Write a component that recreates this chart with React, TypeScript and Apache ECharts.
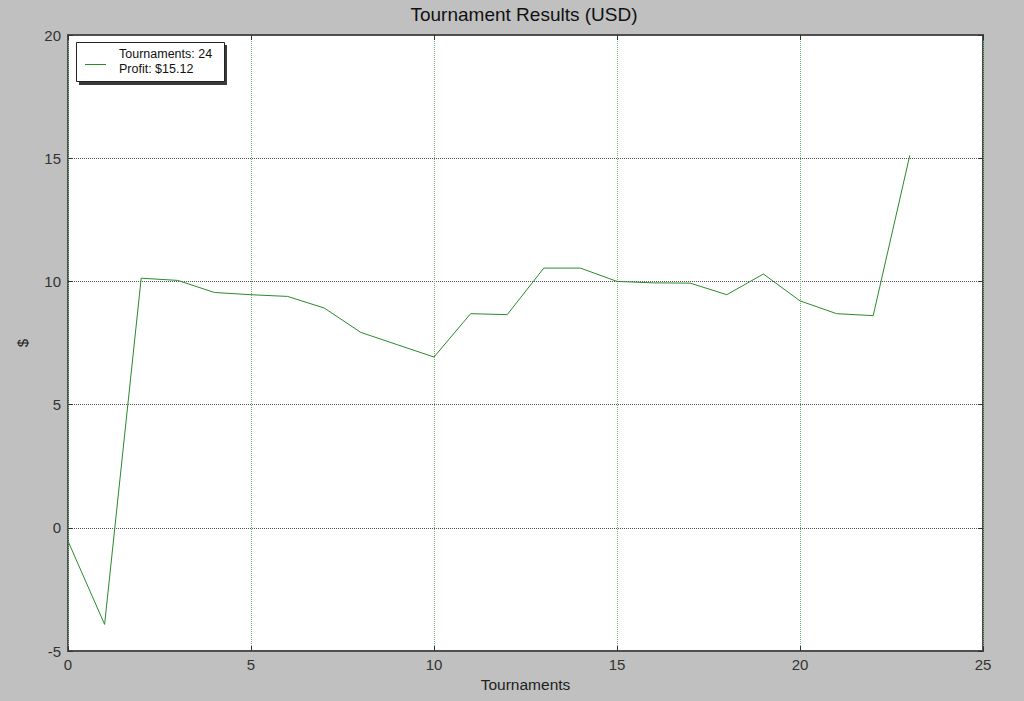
import React, { useEffect, useRef } from "react";
import * as echarts from "echarts";

const tournaments = [0, 1, 2, 3, 4, 5, 6, 7, 8, 9, 10, 11, 12, 13, 14, 15, 16, 17, 18, 19, 20, 21, 22, 23];
const profit = [-0.54, -3.92, 10.13, 10.04, 9.55, 9.46, 9.39, 8.92, 7.93, 7.43, 6.93, 8.69, 8.65, 10.54, 10.54, 10.0, 9.94, 9.93, 9.46, 10.3, 9.21, 8.69, 8.61, 15.12];
const titleText = "Tournament Results (USD)";
const legendLines = ["Tournaments: 24", "Profit: $15.12"];
const xName = "Tournaments";
const yName = "$";

const FONT = "'Liberation Sans', Arial, sans-serif";

export default function App() {
  const ref = useRef<HTMLDivElement>(null);
  useEffect(() => {
    if (!ref.current) return;
    const chart = echarts.init(ref.current, null, { renderer: "svg" });
    const data = tournaments.map((t, i) => [t, profit[i]]);
    const tickCommon = { show: true, inside: true, length: 5, lineStyle: { color: "#333", width: 1 } };
    chart.setOption({
      animation: false,
      backgroundColor: "#c0c0c0",
      grid: {
        left: 68,
        top: 35,
        width: 915,
        height: 616,
        show: true,
        backgroundColor: "#ffffff",
        borderColor: "#4d4d4d",
        borderWidth: 2,
      },
      xAxis: [
        {
          type: "value",
          min: 0,
          max: 25,
          interval: 5,
          position: "bottom",
          name: xName,
          nameLocation: "middle",
          nameGap: 22,
          nameTextStyle: { color: "#222", fontSize: 15.5, fontFamily: FONT },
          axisLine: { show: false, onZero: false },
          axisTick: tickCommon,
          axisLabel: { color: "#333", fontSize: 15, fontFamily: FONT, margin: 6 },
          splitLine: { show: true, lineStyle: { color: "#6fb86f", type: "dotted", width: 1 } },
        },
        {
          type: "value",
          min: 0,
          max: 25,
          interval: 5,
          position: "top",
          axisLine: { show: false, onZero: false },
          axisTick: tickCommon,
          axisLabel: { show: false },
          splitLine: { show: false },
        },
      ],
      yAxis: [
        {
          type: "value",
          min: -5,
          max: 20,
          interval: 5,
          position: "left",
          name: yName,
          nameLocation: "middle",
          nameGap: 38,
          nameRotate: 90,
          nameTextStyle: { color: "#222", fontSize: 15, fontFamily: FONT },
          axisLine: { show: false, onZero: false },
          axisTick: tickCommon,
          axisLabel: { color: "#333", fontSize: 15, fontFamily: FONT, margin: 7 },
          splitLine: { show: true, lineStyle: { color: "#555", type: "dotted", width: 1 } },
        },
        {
          type: "value",
          min: -5,
          max: 20,
          interval: 5,
          position: "right",
          axisLine: { show: false, onZero: false },
          axisTick: tickCommon,
          axisLabel: { show: false },
          splitLine: { show: false },
        },
      ],
      series: [
        {
          type: "line",
          data,
          xAxisIndex: 0,
          yAxisIndex: 0,
          showSymbol: false,
          symbol: "none",
          lineStyle: { color: "#2a8a2a", width: 1 },
          z: 3,
        },
      ],
      graphic: [
        {
          type: "text",
          x: 524,
          y: 14,
          style: {
            text: titleText,
            fill: "#111",
            fontSize: 19,
            fontFamily: FONT,
            textAlign: "center",
            textVerticalAlign: "middle",
          },
        },
        {
          type: "rect",
          shape: { x: 79, y: 45, width: 148, height: 40 },
          style: { fill: "#3a3a3a" },
          z: 10,
        },
        {
          type: "rect",
          shape: { x: 76.5, y: 42.5, width: 148, height: 39 },
          style: { fill: "#ffffff", stroke: "#222", lineWidth: 1 },
          z: 11,
        },
        {
          type: "line",
          shape: { x1: 85, y1: 64.5, x2: 106, y2: 64.5 },
          style: { stroke: "#2a8a2a", lineWidth: 1 },
          z: 12,
        },
        {
          type: "text",
          x: 119,
          y: 54,
          style: {
            text: legendLines[0],
            fill: "#111",
            fontSize: 12.5,
            fontFamily: FONT,
            textVerticalAlign: "middle",
          },
          z: 12,
        },
        {
          type: "text",
          x: 119,
          y: 69,
          style: {
            text: legendLines[1],
            fill: "#111",
            fontSize: 12.5,
            fontFamily: FONT,
            textVerticalAlign: "middle",
          },
          z: 12,
        },
      ],
    });
    return () => chart.dispose();
  }, []);
  return (
    <div
      ref={ref}
      style={{ position: "absolute", left: 0, top: 0, width: 1024, height: 701 }}
    />
  );
}
